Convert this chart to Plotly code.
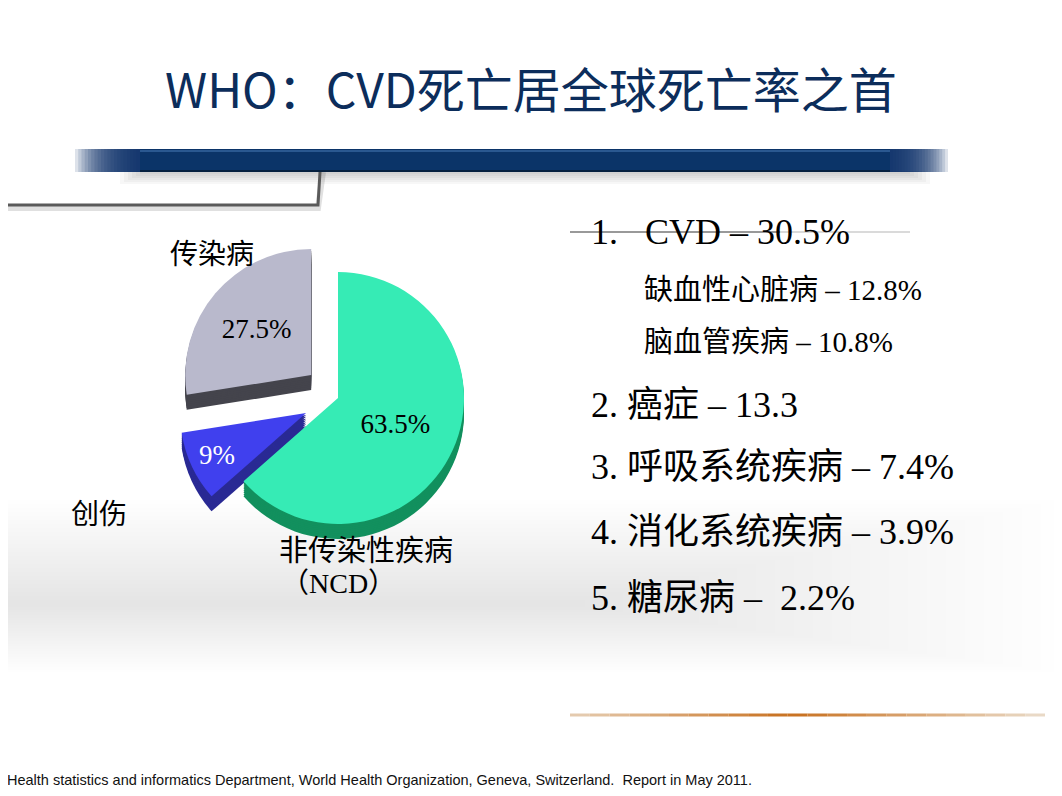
import plotly.graph_objects as go

# the page puts the figure 8px in from the window edge
OFF = 8
W, H = 1062 - 2 * OFF, 796 - 2 * OFF

# pie data (WHO, causes of death)
labels = ["非传染性疾病", "创伤", "传染病"]
values = [63.5, 9, 27.5]
top_colors = ["#36ebb5", "#4040ee", "#b9b9cc"]
side_colors = ["#12905e", "#2a2a94", "#44444c"]
text_colors = ["black", "white", "black"]
pulls = [0, 0.28, 0.28]

# list on the right
main_items = ["1.\u00a0\u00a0\u00a0CVD – 30.5%", "2. 癌症 – 13.3", "3. 呼吸系统疾病 – 7.4%",
              "4. 消化系统疾病 – 3.9%", "5. 糖尿病 –\u00a0\u00a02.2%"]
sub_items = ["缺血性心脏病 – 12.8%", "脑血管疾病 – 10.8%"]

title = "WHO：CVD死亡居全球死亡率之首"
source = ("Health statistics and informatics Department, World Health Organization, "
          "Geneva, Switzerland.\u00a0\u00a0Report in May 2011.")

SERIF = "Liberation Serif, Noto Sans CJK SC"
CJK = "Noto Sans CJK SC"


def px(x):
    return (x - OFF) / W


def py(y):
    return 1 - (y - OFF) / H


# pie placement (window pixels)
cx, cy, r = 338, 398, 126
half = r * (1 + max(pulls))
depth = 15

fig = go.Figure()

# side of the "3d" pie: stacked darker copies
for k in range(8, 0, -1):
    off = k * depth / 8
    fig.add_trace(go.Pie(
        labels=labels, values=values, sort=False, direction="clockwise", rotation=0,
        pull=pulls, marker=dict(colors=side_colors, line=dict(width=0)),
        textinfo="none", hoverinfo="skip",
        domain=dict(x=[px(cx - half), px(cx + half)],
                    y=[py(cy + half + off), py(cy - half + off)]),
    ))

fig.add_trace(go.Pie(
    labels=labels, values=values, sort=False, direction="clockwise", rotation=0,
    pull=pulls, marker=dict(colors=top_colors, line=dict(width=0)),
    texttemplate="%{value}%", textposition="inside", insidetextorientation="horizontal",
    textfont=dict(family=SERIF, size=27, color=text_colors),
    hoverinfo="label+value",
    domain=dict(x=[px(cx - half), px(cx + half)], y=[py(cy + half), py(cy - half)]),
))

shapes = []

# faint grey haze band across the lower half, stronger on the left
for i in range(26):
    shapes.append(dict(type="rect", xref="paper", yref="paper",
                       x0=0, x1=px(1060 - i * 19), y0=py(672 - i * 2.6), y1=py(500 + i * 4),
                       fillcolor="#c9cece", opacity=0.022, line=dict(width=0), layer="below"))

# banner under the title
BLUE = "#0b3468"
for i in range(6):
    shapes.append(dict(type="rect", xref="paper", yref="paper",
                       x0=px(120 + i * 4), x1=px(930 - i * 4), y0=py(172 + 12 - i * 2), y1=py(171),
                       fillcolor="black", opacity=0.03, line=dict(width=0), layer="below"))
shapes.append(dict(type="rect", xref="paper", yref="paper",
                   x0=px(140), x1=px(890), y0=py(172), y1=py(149),
                   fillcolor=BLUE, line=dict(width=0), layer="below"))
n = 20
for i in range(n):
    shapes.append(dict(type="rect", xref="paper", yref="paper",
                       x0=px(75 + i * 65 / n), x1=px(140), y0=py(172), y1=py(149),
                       fillcolor=BLUE, opacity=0.14, line=dict(width=0), layer="below"))
    shapes.append(dict(type="rect", xref="paper", yref="paper",
                       x0=px(890), x1=px(948 - i * 58 / n), y0=py(172), y1=py(149),
                       fillcolor=BLUE, opacity=0.14, line=dict(width=0), layer="below"))
shapes.append(dict(type="line", xref="paper", yref="paper",
                   x0=px(140), x1=px(890), y0=py(151), y1=py(151),
                   line=dict(color="#2a5890", width=2), layer="below"))
shapes.append(dict(type="line", xref="paper", yref="paper",
                   x0=px(140), x1=px(890), y0=py(171), y1=py(171),
                   line=dict(color="#05203f", width=2), layer="below"))

# grey stepped line
for o, col, wdt in [(3, "rgba(0,0,0,0.12)", 6), (0, "#5a5a5a", 3)]:
    shapes.append(dict(type="path", xref="paper", yref="paper",
                       path=f"M {px(OFF)},{py(205 + o)} L {px(318)},{py(205 + o)} "
                            f"L {px(320 + o)},{py(172)}",
                       line=dict(color=col, width=wdt), layer="below"))

# thin line behind the first list item
shapes.append(dict(type="line", xref="paper", yref="paper",
                   x0=px(570), x1=px(780), y0=py(232), y1=py(232),
                   line=dict(color="rgba(110,110,110,0.7)", width=2), layer="below"))
shapes.append(dict(type="line", xref="paper", yref="paper",
                   x0=px(780), x1=px(910), y0=py(232), y1=py(232),
                   line=dict(color="rgba(150,150,150,0.35)", width=2), layer="below"))

# orange line at the bottom right, brighter towards its middle
x0, x1, mid = 570, 1045, 790
segs = 24
for i in range(segs):
    a = x0 + (x1 - x0) * i / segs
    b = x0 + (x1 - x0) * (i + 1) / segs
    t = 1 - min(abs((a + b) / 2 - mid) / (x1 - mid), 1)
    rr = int(235 + (200 - 235) * t)
    gg = int(222 + (112 - 222) * t)
    bb = int(205 + (30 - 205) * t)
    shapes.append(dict(type="line", xref="paper", yref="paper",
                       x0=px(a), x1=px(b), y0=py(715), y1=py(715),
                       line=dict(color=f"rgb({rr},{gg},{bb})", width=3), layer="below"))

annotations = []


def note(text, x, y, size, family=CJK, color="black", anchor="left", weight="normal"):
    annotations.append(dict(text=text, x=px(x), y=py(y), xref="paper", yref="paper",
                            xanchor=anchor, yanchor="middle", showarrow=False,
                            font=dict(family=family, size=size, color=color, weight=weight)))


note(title, 531, 87, 48, family=CJK, color="#0c2d5b", anchor="center")

# pie labels
note(labels[2], 212, 252, 28, anchor="center")
note(labels[1], 99, 512, 28, anchor="center")
note(labels[0], 366, 548, 29, anchor="center")
note("（NCD）", 338, 583, 28, family=SERIF, anchor="center")

# list
main_y = [232, 405, 467, 532, 598]
for t, y in zip(main_items, main_y):
    note(t, 589, y, 36, family=SERIF)
for t, y in zip(sub_items, [290, 342]):
    note(t, 642, y, 29, family=SERIF)

note(source, 5, 780, 14.5, family="Liberation Sans Narrow, Liberation Sans", color="#111")

fig.update_layout(
    width=W, height=H, margin=dict(l=0, r=0, t=0, b=0),
    paper_bgcolor="white", plot_bgcolor="white",
    showlegend=False, shapes=shapes, annotations=annotations,
)

fig.write_html("out.html")
